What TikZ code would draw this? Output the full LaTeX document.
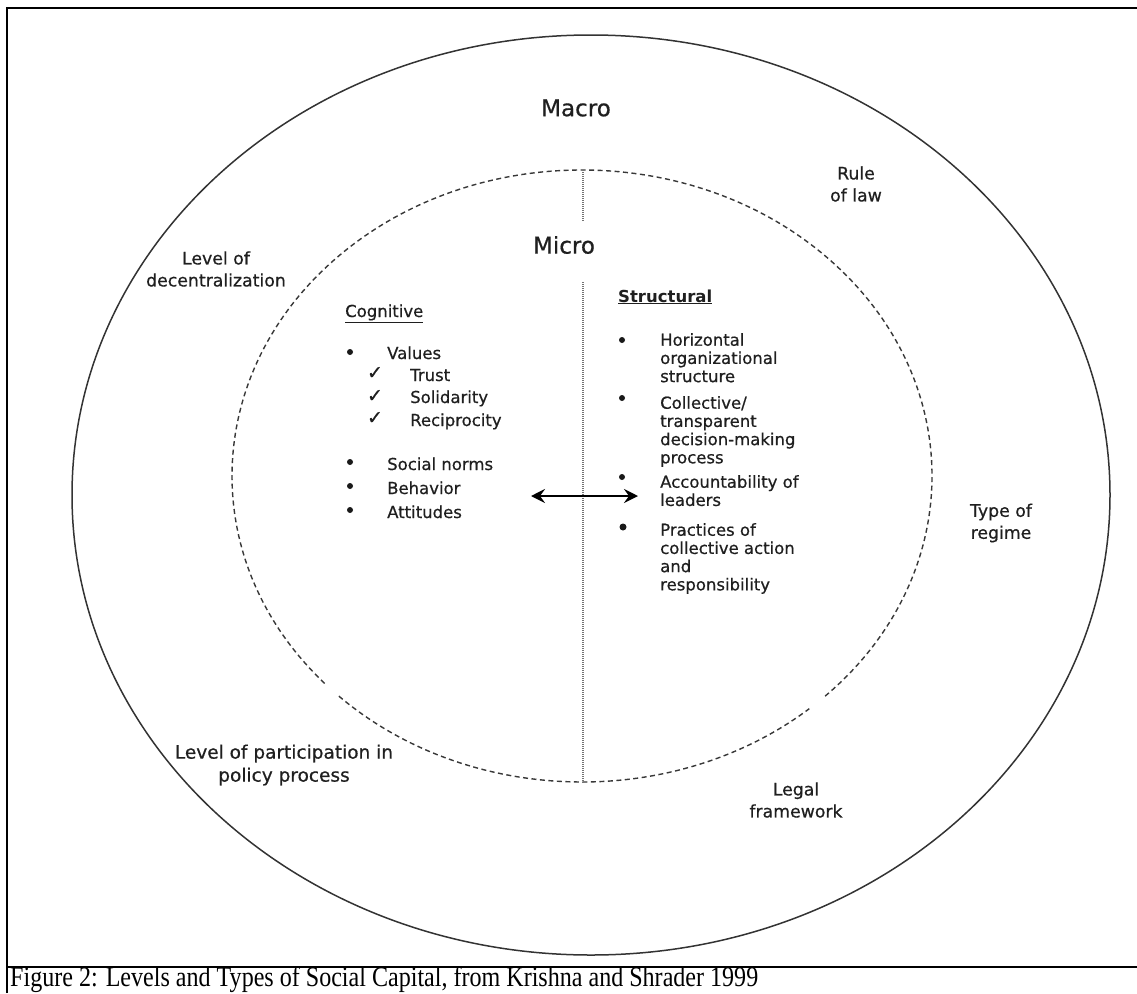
\documentclass[tikz,border=0pt]{standalone}
\usepackage{fontspec}
\setmainfont{DejaVu Sans}
\newfontfamily\heavy{DejaVu Sans}[FakeBold=0.6]
\newfontfamily\capfont{Liberation Serif}
\usetikzlibrary{arrows.meta}

\begin{document}
\begin{tikzpicture}[x=1pt,y=1pt,
  ink/.style={text=black!88},
  lbl/.style={ink, inner sep=0pt, align=center, font=\heavy\fontsize{17.3}{22}\selectfont},
  big/.style={ink, inner sep=0pt, font=\heavy\fontsize{23}{26}\selectfont},
  item/.style={ink, inner sep=0pt, anchor=base west, font=\heavy\fontsize{16.5}{18}\selectfont},
  sitem/.style={ink, inner sep=0pt, anchor=north west, align=left, font=\heavy\fontsize{16.5}{18.2}\selectfont},
  bul/.style={circle, fill=black!90, inner sep=0pt, minimum size=6pt},
  chk/.style={ink, inner sep=0pt, font=\heavy\fontsize{19}{19}\selectfont},
  framel/.style={line width=1.5pt, black},
  outerc/.style={line width=1.5pt, black!80},
  innerc/.style={line width=1.4pt, black!78, dash pattern=on 5pt off 3.5pt},
  divider/.style={line width=1.1pt, black!55, dash pattern=on 1pt off 1pt},
  twoway/.style={line width=2.4pt, black, {Stealth[length=14pt,width=14pt,inset=5pt]}-{Stealth[length=14pt,width=14pt,inset=5pt]}},
  ]
\useasboundingbox (0,0) rectangle (1137,-993);

% page frame and caption rule
\draw[framel] (7,-993) -- (7,-8) -- (1137,-8);
\draw[framel] (7,-967) -- (1137,-967);

% outer (macro) circle
\coordinate (outC) at (591,-495);
\draw[outerc] (outC) ellipse[x radius=519, y radius=460];

% inner (micro) dashed circle, open in two places
\coordinate (inC) at (582,-476);
\draw[innerc] (inC) ++(314:350 and 306)
  arc[start angle=314, end angle=583, x radius=350, y radius=306];
\draw[innerc] (inC) ++(226:350 and 306)
  arc[start angle=226, end angle=310.5, x radius=350, y radius=306];

% vertical divider
\draw[divider] (583,-170) -- (583,-222);
\draw[divider] (583,-282) -- (583,-783);

% level titles
\node[big] (macro) at (576,-108) {Macro};
\node[big] (micro) at (564,-245) {Micro};

% macro-level factors
\node[lbl] (rule) at (856,-184) {Rule\\of law};
\node[lbl] (decent) at (216,-269) {Level of\\decentralization};
\node[lbl] (regime) at (1001,-523) {Type of\\regime};
\node[lbl, font=\heavy\fontsize{18.5}{23}\selectfont] (partic) at (284,-765) {Level of participation in\\policy process};
\node[lbl] (legal) at (796,-800) {Legal\\framework};

% cognitive column
\node[item] (cogh) at (345,-317) {\underline{Cognitive}};
\node[bul] (b1) at (350,-352) {};
\node[item] (values) at (387,-359) {Values};
\node[chk] (c1) at (375,-373) {✓};
\node[item] (trust) at (410,-381) {Trust};
\node[chk] (c2) at (375,-396) {✓};
\node[item] (solid) at (410,-403) {Solidarity};
\node[chk] (c3) at (375,-418) {✓};
\node[item] (recip) at (410,-426) {Reciprocity};
\node[bul] (b2) at (350,-462) {};
\node[item] (norms) at (387,-470) {Social norms};
\node[bul] (b3) at (350,-486) {};
\node[item] (behav) at (387,-494) {Behavior};
\node[bul] (b4) at (350,-510) {};
\node[item] (attit) at (387,-518) {Attitudes};

% structural column
\node[item, font=\bfseries\fontsize{16.5}{18}\selectfont] (strh) at (618,-302) {\underline{Structural}};
\node[bul] (s1) at (622,-340) {};
\node[sitem] (horiz) at (660,-333) {Horizontal\\organizational\\structure};
\node[bul] (s2) at (622,-398) {};
\node[sitem] (collec) at (660,-396) {Collective/\\transparent\\decision-making\\process};
\node[bul] (s3) at (622,-477) {};
\node[sitem] (account) at (660,-475) {Accountability of\\leaders};
\node[bul, minimum size=7pt] (s4) at (623,-527) {};
\node[sitem] (pract) at (660,-523) {Practices of\\collective action\\and\\responsibility};

% two-way link between the two kinds of capital
\coordinate (arrL) at (531,-496);
\coordinate (arrR) at (638,-496);
\draw[twoway] (arrL) -- (arrR);

% caption
\node[anchor=base west, inner sep=0pt] (caption) at (10,-986.5)
  {\resizebox{748pt}{20pt}{\capfont Figure 2: Levels and Types of Social Capital, from Krishna and Shrader 1999}};
\end{tikzpicture}
\end{document}
